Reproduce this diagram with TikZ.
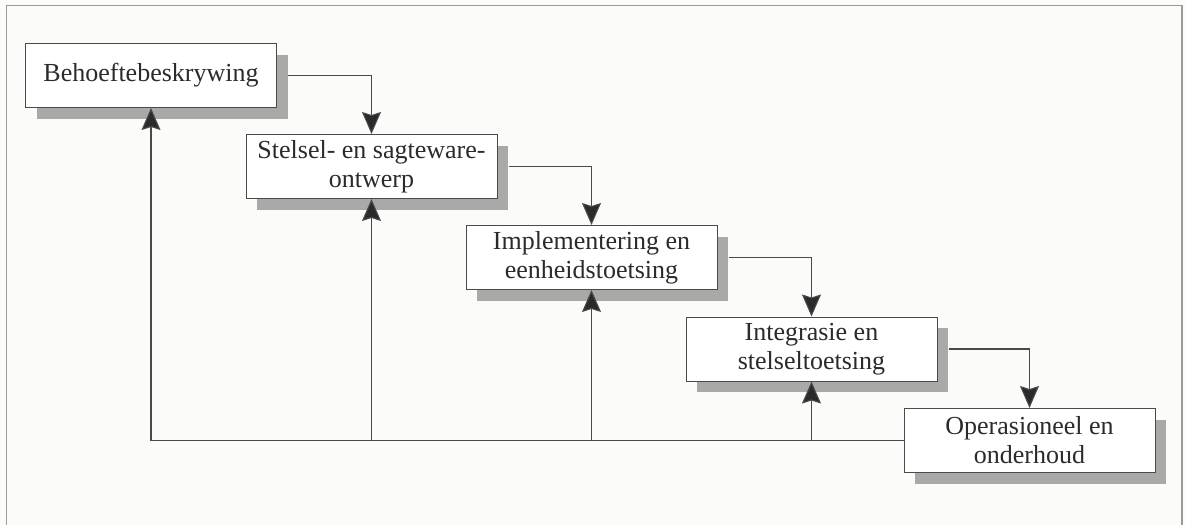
\documentclass[tikz,border=0pt]{standalone}
\usepackage{fontspec}
\setmainfont{Liberation Serif}
\usetikzlibrary{shadows,arrows.meta}
\definecolor{ink}{HTML}{2B2B2B}
\definecolor{wire}{HTML}{4A4A4A}
\definecolor{framegray}{HTML}{9A9A9A}
\definecolor{shade}{HTML}{A9A9A7}
\definecolor{paper}{HTML}{FBFBFA}
\begin{document}
\begin{tikzpicture}[x=0.5pt,y=-0.5pt,
  phase/.style={draw=wire, line width=0.5pt, fill=white, rectangle,
    minimum width=125.5pt, minimum height=32pt, inner sep=0pt,
    align=center, text=ink,
    font=\fontsize{13}{14.5}\selectfont,
    drop shadow={shadow xshift=5.5pt, shadow yshift=-5.5pt, fill=shade, opacity=1}},
  flow/.style={draw=wire, line width=0.55pt,
    -{Stealth[length=11pt, width=9.5pt, inset=1.5pt, fill=ink]}},
  link/.style={draw=wire, line width=0.55pt}]
  % page and outer frame
  \useasboundingbox (0,0) rectangle (1185,525);
  \fill[paper] (0,0) rectangle (1185,525);
  \draw[framegray, line width=0.8pt] (6.5,540) -- (6.5,5.5) -- (1182,5.5) -- (1182,540);

  % the five phases
  \node[phase] (b1) at (151,75.5)   {Behoeftebeskrywing};
  \node[phase] (b2) at (371.5,166.5) {Stelsel- en sagteware-\\ontwerp};
  \node[phase] (b3) at (591.5,257.5) {Implementering en\\eenheidstoetsing};
  \node[phase] (b4) at (811.5,349)   {Integrasie en\\stelseltoetsing};
  \node[phase] (b5) at (1029.5,440.5) {Operasioneel en\\onderhoud};

  % forward flow, starting past each shadow
  \draw[flow] ([xshift=5.5pt]b1.east) -| (b2.north);
  \draw[flow] ([xshift=5.5pt]b2.east) -| (b3.north);
  \draw[flow] ([xshift=5.5pt]b3.east) -| (b4.north);
  \draw[flow] ([xshift=5.5pt]b4.east) -| (b5.north);

  % feedback from operation back to every earlier phase
  \coordinate (r1) at (b1.south |- b5.west);
  \coordinate (r2) at (b2.south |- b5.west);
  \coordinate (r3) at (b3.south |- b5.west);
  \coordinate (r4) at (b4.south |- b5.west);
  \draw[link] (b5.west) -- (r1);
  \draw[flow] (r1) -- (b1.south);
  \draw[flow] (r2) -- (b2.south);
  \draw[flow] (r3) -- (b3.south);
  \draw[flow] (r4) -- (b4.south);
\end{tikzpicture}
\end{document}
